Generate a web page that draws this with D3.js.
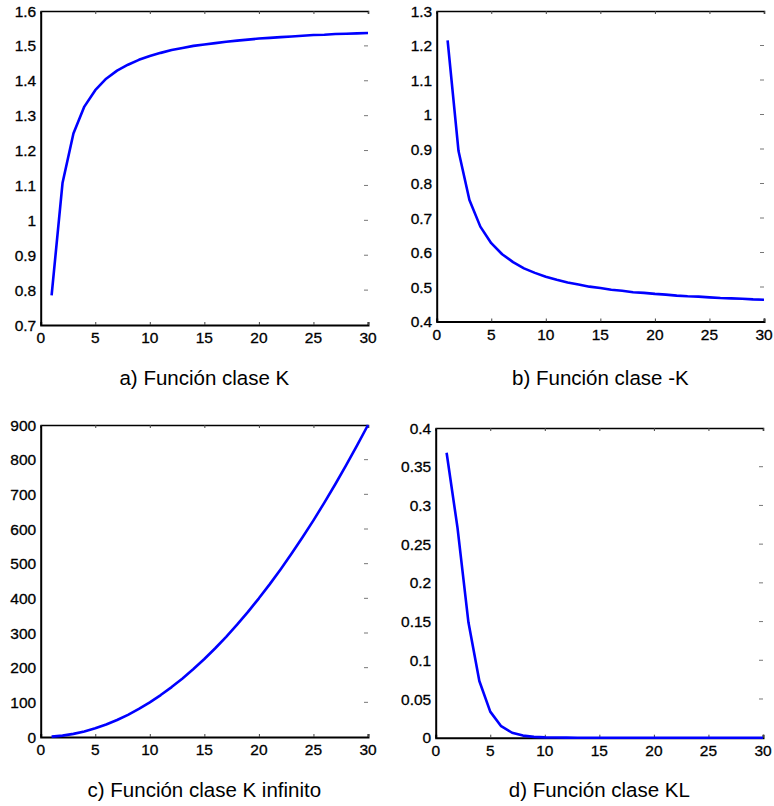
<!DOCTYPE html>
<html>
<head>
<meta charset="utf-8">
<script src="https://cdn.jsdelivr.net/npm/d3@7"></script>
<style>
  html, body { margin: 0; padding: 0; background: #fff; }
  svg { display: block; }
  text { font-family: "Liberation Sans", Arial, Helvetica, sans-serif; fill: #000; }
  text.xlbl, text.ylbl { stroke: #000; stroke-width: 0.3px; }
</style>
</head>
<body>
<svg id="chart" width="774" height="806"></svg>
<script>
// ---------- data ----------
const k = [1,2,3,4,5,6,7,8,9,10,11,12,13,14,15,16,17,18,19,20,21,22,23,24,25,26,27,28,29,30];

const seriesA = [0.785,1.107,1.249,1.326,1.373,1.406,1.429,1.446,1.460,1.471,1.480,1.488,1.494,1.500,1.504,
                 1.508,1.512,1.515,1.518,1.521,1.523,1.525,1.527,1.529,1.531,1.532,1.534,1.535,1.536,1.537];
const seriesB = [1.215,0.894,0.752,0.675,0.627,0.595,0.572,0.554,0.541,0.530,0.521,0.513,0.507,0.501,0.497,
                 0.492,0.489,0.485,0.483,0.480,0.478,0.475,0.473,0.472,0.470,0.468,0.467,0.466,0.464,0.463];
const seriesC = [1,4,9,16,25,36,49,64,81,100,121,144,169,196,225,256,289,324,361,400,441,484,529,576,625,
                 676,729,784,841,900];
const seriesD = [0.368,0.271,0.149,0.0733,0.0337,0.0149,0.0064,0.0027,0.0011,0.00045,0.00018,0.00007,0.00003,
                 0.00001,0,0,0,0,0,0,0,0,0,0,0,0,0,0,0,0];

const xTicks = [0,5,10,15,20,25,30];
const yTicksA = [0.7,0.8,0.9,1,1.1,1.2,1.3,1.4,1.5,1.6];
const yTicksB = [0.4,0.5,0.6,0.7,0.8,0.9,1,1.1,1.2,1.3];
const yTicksC = [0,100,200,300,400,500,600,700,800,900];
const yTicksD = [0,0.05,0.1,0.15,0.2,0.25,0.3,0.35,0.4];

const titles = ["a) Función clase K", "b) Función clase -K", "c) Función clase K infinito", "d) Función clase KL"];

// ---------- layout ----------
const panels = [
  { data: seriesA, yTicks: yTicksA, yDom: [0.7,1.6], x0: 40.7, x1: 368, y0: 11, y1: 325, title: titles[0], tY: 384.5 },
  { data: seriesB, yTicks: yTicksB, yDom: [0.4,1.3], x0: 436.7, x1: 764, y0: 11, y1: 321.5, title: titles[1], tY: 384.5 },
  { data: seriesC, yTicks: yTicksC, yDom: [0,900], x0: 40.7, x1: 368, y0: 425, y1: 737, title: titles[2], tY: 797.3 },
  { data: seriesD, yTicks: yTicksD, yDom: [0,0.4], x0: 435.7, x1: 763, y0: 428, y1: 737.7, title: titles[3], tY: 797.3 }
];

const svg = d3.select("#chart");
const fmt = d3.format("~g");

panels.forEach(p => {
  const x = d3.scaleLinear().domain([0,30]).range([p.x0, p.x1]);
  const y = d3.scaleLinear().domain(p.yDom).range([p.y1, p.y0]);
  const g = svg.append("g");

  // right-side gray ticks (inward)
  g.selectAll(".rt").data(p.yTicks.slice(1, -1)).enter().append("line")
    .attr("class", "rt")
    .attr("x1", p.x1 - 4).attr("x2", p.x1)
    .attr("y1", d => y(d)).attr("y2", d => y(d))
    .attr("stroke", "#777").attr("stroke-width", 1);

  // top axis
  const top = g.append("g").attr("transform", `translate(0,${p.y0})`)
    .call(d3.axisBottom(x).tickValues(xTicks).tickSize(3).tickFormat(""));
  top.select(".domain").attr("stroke", "#000").attr("stroke-width", 1.5);
  top.selectAll(".tick line").attr("stroke", "#444");

  // bottom axis
  const bot = g.append("g").attr("transform", `translate(0,${p.y1})`)
    .call(d3.axisTop(x).tickValues(xTicks).tickSize(3).tickFormat(""));
  bot.select(".domain").attr("stroke", "#000").attr("stroke-width", 2);
  bot.selectAll(".tick line").attr("stroke", "#444");
  g.selectAll(".xlbl").data(xTicks).enter().append("text")
    .attr("class", "xlbl")
    .attr("x", d => x(d)).attr("y", p.y1 + 18)
    .attr("text-anchor", "middle").attr("font-size", 15.5).text(d => fmt(d));

  // left axis
  const left = g.append("g").attr("transform", `translate(${p.x0},0)`)
    .call(d3.axisRight(y).tickValues(p.yTicks).tickSize(0).tickFormat(""));
  left.select(".domain").attr("stroke", "#000").attr("stroke-width", 2);
  g.selectAll(".ylbl").data(p.yTicks).enter().append("text")
    .attr("class", "ylbl")
    .attr("x", p.x0 - 4.5).attr("y", d => y(d)).attr("dy", "0.36em")
    .attr("text-anchor", "end").attr("font-size", 15.5).text(d => fmt(d));

  // line
  const line = d3.line().x((d, i) => x(k[i])).y(d => y(d));
  g.append("path").datum(p.data)
    .attr("d", line).attr("fill", "none")
    .attr("stroke", "#0000ff").attr("stroke-width", 2.6)
    .attr("stroke-linejoin", "round");

  // title
  g.append("text").attr("x", (p.x0 + p.x1) / 2).attr("y", p.tY)
    .attr("text-anchor", "middle").attr("font-size", 20.5).text(p.title);
});
</script>
</body>
</html>
